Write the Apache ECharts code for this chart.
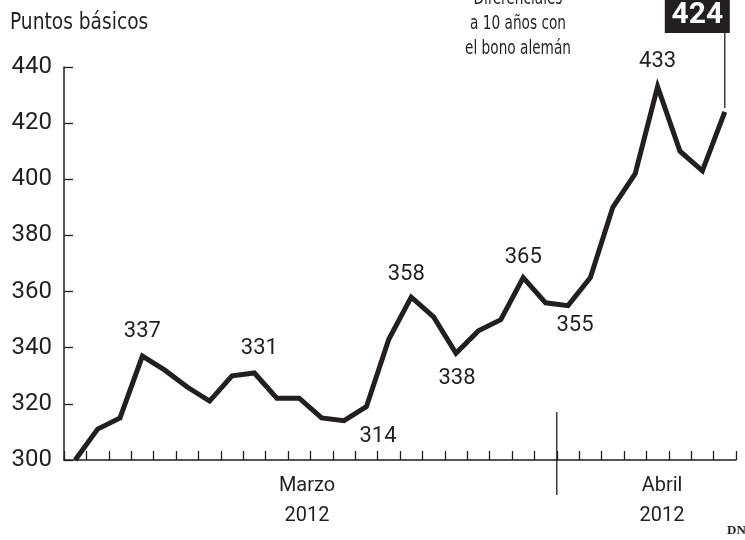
<!DOCTYPE html>
<html>
<head>
<meta charset="utf-8">
<script src="https://cdn.jsdelivr.net/npm/echarts@6/dist/echarts.min.js"></script>
<style>
  html, body { margin: 0; padding: 0; background: #fff; }
  #chart { width: 745px; height: 540px; }
</style>
</head>
<body>
<div id="chart"></div>
<script>
// trading days, March (22) and April (8) 2012
const days = [
  "01/03", "02/03", "05/03", "06/03", "07/03", "08/03", "09/03", "12/03",
  "13/03", "14/03", "15/03", "16/03", "19/03", "20/03", "21/03", "22/03",
  "23/03", "26/03", "27/03", "28/03", "29/03", "30/03",
  "02/04", "03/04", "04/04", "05/04", "10/04", "11/04", "12/04", "13/04"
];

// spread vs German 10y bond, basis points
const spread = [
  300, 311, 315, 337, 332, 326, 321, 330, 331, 322, 322, 315, 314, 319, 343,
  358, 351, 338, 346, 350, 365, 356, 355, 365, 390, 402, 433, 410, 403, 424
];

const yTicks = [300, 320, 340, 360, 380, 400, 420, 440];
const months = ["Marzo", "Abril"];
const year = "2012";
const unitText = "Puntos básicos";
const noteText = ["Diferenciales", "a 10 años con", "el bono alemán"];

const INK = "#231f20";
const NUM_FONT = 'Roboto, "DejaVu Sans", sans-serif';
const TXT_FONT = '"Liberation Sans Narrow", "DejaVu Sans Condensed", sans-serif';

const chart = echarts.init(document.getElementById("chart"));

// where the value labels sit (center offset from the point)
const labelSpots = {
  3: [0, -25], 8: [5, -24], 12: [34, 16], 15: [-5, -23],
  17: [1, 25], 20: [0, -20], 22: [7, 20], 26: [0, -25]
};

const seriesData = spread.map((v, i) => {
  const off = labelSpots[i];
  if (!off) return v;
  return { value: v, label: { show: true, position: "inside", offset: off } };
});

const option = {
  animation: false,
  backgroundColor: "#fff",
  grid: { left: 64, right: 9, top: 67, bottom: 80 },
  xAxis: {
    type: "category",
    data: days,
    boundaryGap: true,
    axisLine: { lineStyle: { color: INK, width: 1.5 } },
    axisTick: {
      show: true, inside: true, length: 9, interval: 0,
      alignWithLabel: false, lineStyle: { color: INK, width: 1.3 }
    },
    axisLabel: { show: false },
    splitLine: { show: false }
  },
  yAxis: {
    type: "value",
    min: yTicks[0],
    max: yTicks[yTicks.length - 1],
    interval: 20,
    axisLine: { show: true, lineStyle: { color: INK, width: 1.5 } },
    axisTick: { show: true, inside: true, length: 9, lineStyle: { color: INK, width: 1.3 } },
    axisLabel: { color: INK, fontFamily: NUM_FONT, fontSize: 24, margin: 12 },
    splitLine: { show: false }
  },
  series: [{
    type: "line",
    data: seriesData,
    symbol: "circle",
    symbolSize: 2,
    showSymbol: true,
    itemStyle: { color: "rgba(0,0,0,0)", borderWidth: 0 },
    lineStyle: { color: INK, width: 5, join: "miter" },
    label: { show: false, color: INK, fontFamily: NUM_FONT, fontSize: 22 },
    emphasis: { disabled: true },
    z: 5
  }]
};

chart.setOption(option);

// annotations positioned from the chart's own scales
const last = spread.length - 1;
const pLast = chart.convertToPixel({ seriesIndex: 0 }, [last, spread[last]]);
const pMar = chart.convertToPixel({ seriesIndex: 0 }, [21, spread[21]]);
const pApr = chart.convertToPixel({ seriesIndex: 0 }, [22, spread[22]]);
const divX = (pMar[0] + pApr[0]) / 2;

chart.setOption({
  graphic: [
    {
      type: "text", x: 10, y: 12, scaleX: 0.9,
      style: { text: unitText, font: "23px " + TXT_FONT, fill: INK }
    },
    {
      type: "text", x: 518, y: -13, scaleX: 0.8,
      style: {
        text: noteText.join("\n"), font: "19px " + TXT_FONT, fill: INK,
        textAlign: "center", textVerticalAlign: "top", lineHeight: 25
      }
    },
    {
      type: "rect",
      shape: { x: pLast[0] - 60, y: -6, width: 65, height: 39 },
      style: { fill: INK }
    },
    {
      type: "text", x: pLast[0] - 27.5, y: 15,
      style: {
        text: String(spread[last]), font: "bold 30px " + NUM_FONT, fill: "#fff",
        textAlign: "center", textVerticalAlign: "middle"
      }
    },
    {
      type: "line",
      shape: { x1: pLast[0], y1: 33, x2: pLast[0], y2: pLast[1] - 4 },
      style: { stroke: INK, lineWidth: 1.3 }
    },
    {
      type: "line",
      shape: { x1: divX, y1: 412, x2: divX, y2: 495 },
      style: { stroke: INK, lineWidth: 1.3 }
    },
    {
      type: "text", x: 307, y: 471, scaleX: 0.95,
      style: {
        text: months[0] + "\n" + year, font: "21px " + NUM_FONT, fill: INK,
        textAlign: "center", textVerticalAlign: "top", lineHeight: 30
      }
    },
    {
      type: "text", x: 662, y: 471, scaleX: 0.95,
      style: {
        text: months[1] + "\n" + year, font: "21px " + NUM_FONT, fill: INK,
        textAlign: "center", textVerticalAlign: "top", lineHeight: 30
      }
    },
    {
      type: "text", x: 727, y: 531,
      style: {
        text: "DN", font: "bold 13px 'Liberation Serif', serif", fill: INK,
        textVerticalAlign: "middle"
      }
    }
  ]
});

window.addEventListener("resize", () => chart.resize());
</script>
</body>
</html>
